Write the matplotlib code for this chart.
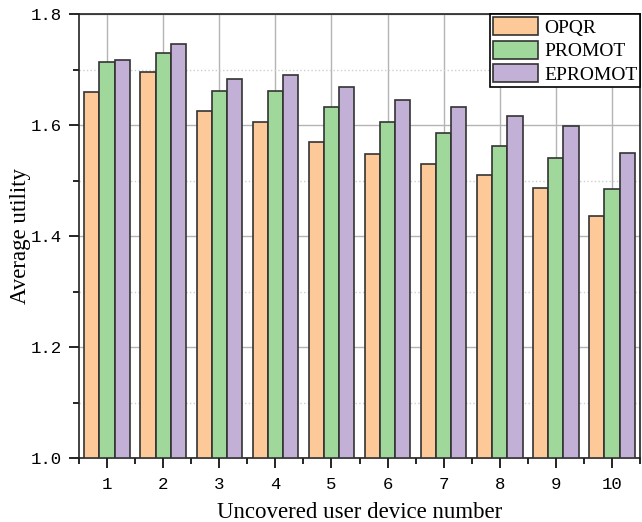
import numpy as np
import matplotlib
matplotlib.use('Agg')
import matplotlib.pyplot as plt
from matplotlib.ticker import MultipleLocator

# values
device_numbers = [1, 2, 3, 4, 5, 6, 7, 8, 9, 10]
opqr = [1.659, 1.695, 1.626, 1.605, 1.570, 1.548, 1.530, 1.510, 1.487, 1.436]
promot = [1.713, 1.730, 1.661, 1.661, 1.632, 1.605, 1.586, 1.563, 1.541, 1.485]
epromot = [1.717, 1.746, 1.683, 1.690, 1.668, 1.645, 1.633, 1.617, 1.599, 1.550]

series_names = ['OPQR', 'PROMOT', 'EPROMOT']
series_colors = ['#FDC998', '#A0D89C', '#C2B0D6']

fig = plt.figure(figsize=(6.42, 5.22), dpi=100)
ax = fig.add_axes([0.123, 0.1226, 0.874, 0.8504])

x = np.array(device_numbers, dtype=float)
width = 0.27
for i, (vals, name, color) in enumerate(zip([opqr, promot, epromot], series_names, series_colors)):
    ax.bar(x + (i - 1) * width, np.array(vals) - 1.0, width, bottom=1.0,
           color=color, edgecolor='#333333', linewidth=1.2, label=name, zorder=3)

ax.set_xlim(0.5, 10.5)
ax.set_ylim(1.0, 1.8)
ax.set_xticks(device_numbers)
ax.xaxis.set_minor_locator(MultipleLocator(0.5))
ax.yaxis.set_major_locator(MultipleLocator(0.2))
ax.yaxis.set_minor_locator(MultipleLocator(0.1))

# grid: solid at major ticks, dotted at minor y ticks
ax.grid(True, which='major', color='#b4b4b4', linewidth=1.0, linestyle='-', zorder=0)
ax.grid(True, which='minor', axis='y', color='#cfcfcf', linewidth=1.0, linestyle=':', zorder=0)
ax.set_axisbelow(True)

ax.tick_params(which='major', direction='out', length=7, width=1.2)
ax.tick_params(which='minor', direction='out', length=4, width=1.2)
ax.set_yticks([1.0, 1.2, 1.4, 1.6, 1.8])
ax.set_yticklabels(['1.0', '1.2', '1.4', '1.6', '1.8'])
for lbl in ax.get_xticklabels() + ax.get_yticklabels():
    lbl.set_fontfamily('Liberation Mono')
    lbl.set_fontsize(12.5)
ax.tick_params(axis='x', pad=7)
ax.tick_params(axis='y', pad=5)

for sp in ax.spines.values():
    sp.set_linewidth(1.2)
    sp.set_color('#222222')

ax.set_xlabel('Uncovered user device number', fontfamily='Liberation Serif', fontsize=16.5, labelpad=7)
ax.set_ylabel('Average utility', fontfamily='Liberation Serif', fontsize=16.5)
ax.yaxis.set_label_coords(-0.085, 0.5)

leg = ax.legend(loc='upper right', prop={'family': 'Liberation Serif', 'size': 14},
                fancybox=False, framealpha=1, edgecolor='black', borderaxespad=0.0,
                handlelength=2.3, handleheight=1.05, handletextpad=0.3,
                labelspacing=0.2, borderpad=0.15)
leg.get_frame().set_linewidth(1.2)

plt.savefig('out.png', dpi=100)
